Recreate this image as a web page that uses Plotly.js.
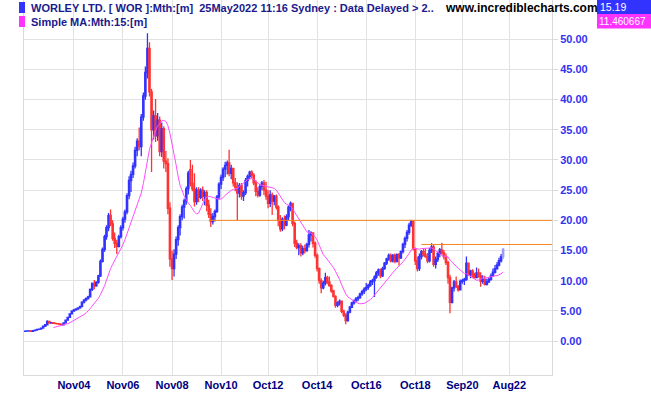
<!DOCTYPE html>
<html>
<head>
<meta charset="utf-8">
<script src="https://cdn.plot.ly/plotly-3.0.1.min.js"></script>
<style>
html,body{margin:0;padding:0;background:#fff;}
#chart{width:651px;height:395px;}
</style>
</head>
<body>
<div id="chart"></div>
<script>
// Monthly bars, Nov 2002 .. May 2022
var months = [
'2002-11','2002-12',
'2003-01','2003-02','2003-03','2003-04','2003-05','2003-06','2003-07','2003-08','2003-09','2003-10','2003-11','2003-12',
'2004-01','2004-02','2004-03','2004-04','2004-05','2004-06','2004-07','2004-08','2004-09','2004-10','2004-11','2004-12',
'2005-01','2005-02','2005-03','2005-04','2005-05','2005-06','2005-07','2005-08','2005-09','2005-10','2005-11','2005-12',
'2006-01','2006-02','2006-03','2006-04','2006-05','2006-06','2006-07','2006-08','2006-09','2006-10','2006-11','2006-12',
'2007-01','2007-02','2007-03','2007-04','2007-05','2007-06','2007-07','2007-08','2007-09','2007-10','2007-11','2007-12',
'2008-01','2008-02','2008-03','2008-04','2008-05','2008-06','2008-07','2008-08','2008-09','2008-10','2008-11','2008-12',
'2009-01','2009-02','2009-03','2009-04','2009-05','2009-06','2009-07','2009-08','2009-09','2009-10','2009-11','2009-12',
'2010-01','2010-02','2010-03','2010-04','2010-05','2010-06','2010-07','2010-08','2010-09','2010-10','2010-11','2010-12',
'2011-01','2011-02','2011-03','2011-04','2011-05','2011-06','2011-07','2011-08','2011-09','2011-10','2011-11','2011-12',
'2012-01','2012-02','2012-03','2012-04','2012-05','2012-06','2012-07','2012-08','2012-09','2012-10','2012-11','2012-12',
'2013-01','2013-02','2013-03','2013-04','2013-05','2013-06','2013-07','2013-08','2013-09','2013-10','2013-11','2013-12',
'2014-01','2014-02','2014-03','2014-04','2014-05','2014-06','2014-07','2014-08','2014-09','2014-10','2014-11','2014-12',
'2015-01','2015-02','2015-03','2015-04','2015-05','2015-06','2015-07','2015-08','2015-09','2015-10','2015-11','2015-12',
'2016-01','2016-02','2016-03','2016-04','2016-05','2016-06','2016-07','2016-08','2016-09','2016-10','2016-11','2016-12',
'2017-01','2017-02','2017-03','2017-04','2017-05','2017-06','2017-07','2017-08','2017-09','2017-10','2017-11','2017-12',
'2018-01','2018-02','2018-03','2018-04','2018-05','2018-06','2018-07','2018-08','2018-09','2018-10','2018-11','2018-12',
'2019-01','2019-02','2019-03','2019-04','2019-05','2019-06','2019-07','2019-08','2019-09','2019-10','2019-11','2019-12',
'2020-01','2020-02','2020-03','2020-04','2020-05','2020-06','2020-07','2020-08','2020-09','2020-10','2020-11','2020-12',
'2021-01','2021-02','2021-03','2021-04','2021-05','2021-06','2021-07','2021-08','2021-09','2021-10','2021-11','2021-12',
'2022-01','2022-02','2022-03','2022-04','2022-05'
];

var openP = [
1.60,1.65,
1.66,1.68,1.62,1.72,1.82,1.92,1.98,2.15,2.45,2.70,3.25,2.98,
3.05,2.92,2.88,2.84,2.78,2.68,3.00,3.45,3.92,4.50,4.95,5.15,
5.32,5.48,5.72,6.45,6.78,7.05,7.32,8.55,9.55,9.15,9.75,10.8,
13.2,15.2,17.3,18.8,20.8,19.4,17.0,16.2,15.7,17.3,18.8,20.2,
21.4,24.1,26.6,27.6,29.0,31.6,33.1,32.2,37.1,40.6,44.5,48.5,
41.3,35.0,37.3,34.0,36.6,31.4,35.2,29.8,29.4,22.0,13.6,12.0,
14.4,16.8,18.8,20.6,22.2,23.2,25.2,28.4,26.1,25.2,23.1,25.0,
23.8,25.0,24.0,24.6,22.5,21.0,19.8,20.6,21.5,23.9,26.0,27.1,
28.5,29.1,29.5,27.8,28.6,26.2,25.5,24.5,25.8,24.0,24.6,26.6,
27.3,28.0,27.5,26.2,24.8,24.2,25.6,26.2,25.0,24.0,22.8,24.2,
23.2,24.0,22.2,20.0,18.6,20.2,19.2,20.6,22.2,22.8,19.5,16.2,
15.5,15.8,14.6,15.3,15.0,16.0,17.6,17.9,16.2,14.2,12.0,10.0,
8.8,9.6,10.5,9.8,9.2,8.3,7.4,5.9,6.3,6.6,4.9,4.3,
3.4,4.8,5.6,6.3,6.7,7.0,7.2,7.8,8.2,8.6,8.9,9.2,
9.8,10.0,10.6,11.3,11.8,10.8,12.0,12.9,13.6,14.2,13.3,14.2,
13.2,14.3,13.8,14.8,16.0,17.0,18.0,19.2,19.8,15.3,13.3,12.0,
14.0,14.8,14.3,14.0,13.3,15.0,15.6,12.7,13.5,14.5,15.1,14.6,
14.0,13.0,10.5,6.4,8.8,9.8,9.0,8.5,9.9,10.0,10.2,12.9,
11.0,11.6,10.8,10.5,11.3,10.8,9.9,10.2,9.4,9.8,10.2,10.8,
11.4,12.0,12.6,13.3,14.0
];

var highP = [
1.70,1.72,
1.72,1.72,1.76,1.85,1.95,2.02,2.20,2.50,2.75,3.45,3.30,3.15,
3.10,3.05,2.98,2.95,2.90,3.05,3.50,4.00,4.60,5.10,5.30,5.45,
5.60,5.85,6.60,6.95,7.20,7.50,8.70,9.70,10.1,9.90,11.0,13.5,
15.5,17.6,19.2,21.2,21.8,20.0,18.0,16.8,17.6,19.2,20.6,21.8,
24.5,27.3,28.2,29.6,32.2,33.6,35.4,37.6,41.2,45.5,51.0,49.5,
41.8,38.2,40.1,37.8,37.2,36.2,35.6,31.5,30.3,23.0,15.0,15.2,
17.3,19.2,21.0,22.6,23.6,25.6,28.2,30.0,29.2,27.8,25.5,25.5,
25.3,25.6,25.0,25.0,23.4,22.0,21.2,21.8,24.2,26.3,27.6,28.8,
29.7,29.9,31.7,29.2,28.7,27.0,26.3,26.2,26.2,25.0,27.0,27.6,
28.2,28.3,27.8,26.7,25.5,26.0,26.5,26.7,26.4,25.0,25.0,24.6,
24.2,24.3,22.5,20.9,20.5,20.8,21.0,22.5,23.1,22.9,19.8,16.8,
16.2,16.2,15.8,16.0,16.3,18.4,18.2,18.0,16.5,14.5,12.2,10.4,
10.0,11.3,10.8,10.7,9.4,8.5,7.6,6.6,6.9,6.7,5.2,4.6,
5.0,5.8,6.5,6.9,7.3,7.5,8.0,8.5,8.9,9.6,9.5,10.1,
10.3,10.9,11.6,12.0,12.0,12.3,13.1,13.8,14.5,14.5,14.4,14.5,
14.5,14.6,15.0,16.3,17.3,18.4,19.6,20.1,20.0,15.5,14.0,14.5,
15.1,15.4,15.3,14.6,15.4,16.2,15.9,14.0,14.8,15.4,16.3,15.1,
14.5,13.3,11.0,9.0,10.1,10.7,9.3,10.2,10.3,10.5,14.0,13.0,
11.8,11.9,11.3,12.2,12.0,11.4,10.9,10.8,10.3,10.6,11.2,12.0,
12.6,13.1,13.8,14.4,15.4
];

var lowP = [
1.55,1.60,
1.60,1.58,1.60,1.70,1.78,1.85,1.95,2.10,2.40,2.65,2.90,2.85,
2.85,2.80,2.75,2.70,2.55,2.62,2.95,3.35,3.85,4.40,4.85,5.00,
5.15,5.35,5.60,6.20,6.60,6.90,7.20,8.30,8.60,9.00,9.50,10.6,
13.0,14.8,16.8,18.2,19.0,16.6,15.4,14.4,15.5,17.0,18.3,19.6,
21.0,23.5,24.7,27.0,28.6,30.6,31.6,30.6,36.5,40.0,43.5,40.5,
28.0,33.4,33.0,33.2,30.6,30.5,28.6,28.0,21.0,12.3,10.1,10.7,
13.6,15.8,17.5,20.0,20.3,22.6,24.3,25.6,24.8,22.3,22.6,23.0,
23.5,23.2,22.5,21.5,20.4,18.9,19.3,19.8,21.2,23.5,25.2,26.5,
27.2,27.6,27.3,26.8,25.6,24.8,20.0,23.8,23.4,23.2,24.2,25.6,
26.8,27.0,25.8,24.0,23.8,23.9,25.0,24.2,23.4,22.0,22.2,20.9,
22.5,21.8,19.0,18.1,18.2,18.5,19.0,20.0,21.5,19.0,15.6,15.2,
14.2,14.0,14.2,14.5,14.8,15.5,16.5,15.5,13.8,11.5,9.5,7.9,
8.6,9.2,9.4,9.0,8.0,7.2,5.5,5.6,5.9,4.6,4.0,2.8,
3.2,4.6,5.5,6.0,6.4,6.6,7.0,7.5,7.8,8.3,8.5,9.0,
9.3,7.3,10.3,10.8,10.4,10.6,11.8,12.6,13.3,13.0,13.0,12.9,
13.0,12.5,13.6,14.5,15.4,16.5,17.6,18.9,15.0,12.6,11.5,11.6,
13.5,14.0,13.8,12.9,13.0,14.6,12.3,12.0,13.1,13.9,14.3,13.5,
12.6,9.5,4.6,6.2,8.2,8.8,8.2,8.4,9.5,9.3,10.0,10.8,
10.4,10.4,10.3,10.4,10.5,9.0,9.5,9.2,9.2,9.6,10.0,10.6,
11.2,11.8,12.4,13.0,13.6
];

var closeP = [
1.65,1.66,
1.68,1.62,1.72,1.82,1.92,1.98,2.15,2.45,2.70,3.25,2.98,3.05,
2.92,2.88,2.84,2.78,2.68,3.00,3.45,3.92,4.50,4.95,5.15,5.32,
5.48,5.72,6.45,6.78,7.05,7.32,8.55,9.55,9.15,9.75,10.8,13.2,
15.2,17.3,18.8,20.8,19.4,17.0,16.2,15.7,17.3,18.8,20.2,21.4,
24.1,26.6,27.6,29.0,31.6,33.1,32.2,37.1,40.6,44.5,48.5,41.3,
35.0,37.3,34.0,36.6,31.4,35.2,29.8,29.4,22.0,13.6,12.0,14.4,
16.8,18.8,20.6,22.2,23.2,25.2,27.8,26.1,25.2,23.1,25.0,23.8,
25.0,24.0,24.6,22.5,21.0,19.8,20.6,21.5,23.9,26.0,27.1,28.5,
29.1,29.5,27.8,28.6,26.2,25.5,24.5,25.8,24.0,24.6,26.6,27.3,
28.0,27.5,26.2,24.8,24.2,25.6,26.2,25.0,24.0,22.8,24.2,23.2,
24.0,22.2,20.0,18.6,20.2,19.2,20.6,22.2,22.8,19.5,16.2,15.5,
15.8,14.6,15.3,15.0,16.0,17.6,17.9,16.2,14.2,12.0,10.0,8.8,
9.6,10.5,9.8,9.2,8.3,7.4,5.9,6.3,6.6,4.9,4.3,3.4,
4.8,5.6,6.3,6.7,7.0,7.2,7.8,8.2,8.6,8.9,9.2,9.8,
10.0,10.6,11.3,11.8,10.8,12.0,12.9,13.6,14.2,13.3,14.2,13.2,
14.3,13.8,14.8,16.0,17.0,18.0,19.2,19.8,15.3,13.3,12.0,14.0,
14.8,14.3,14.0,13.3,15.0,15.6,12.7,13.5,14.5,15.1,14.6,14.0,
13.0,10.5,6.4,8.8,9.8,9.0,8.5,9.9,10.0,10.2,12.9,11.0,
11.6,10.8,10.5,11.3,10.8,9.9,10.2,9.4,9.8,10.2,10.8,11.4,
12.0,12.6,13.3,14.0,15.19
];

var maPeriod = 15;
var yTicks = [0,5,10,15,20,25,30,35,40,45,50];
var xTickVals = ['2004-11-01','2006-11-01','2008-11-01','2010-11-01','2012-10-01','2014-10-01','2016-10-01','2018-10-01','2020-09-01','2022-08-01'];
var xTickText = ['Nov04','Nov06','Nov08','Nov10','Oct12','Oct14','Oct16','Oct18','Sep20','Aug22'];
var levelLines = [
  {from:'2010-05-01', value:20},
  {from:'2019-01-01', value:16}
];
var headerText = 'WORLEY LTD. [ WOR ]:Mth:[m]  25May2022 11:16 Sydney : Data Delayed > 2..';
var maText = 'Simple MA:Mth:15:[m]';
var lastPriceText = '15.19';
var lastMaText = '11.460667';

// 15-month simple moving average of the closes (as in the chart legend)
var maX = [], maY = [];
for (var i = maPeriod - 1; i < closeP.length; i++) {
  var s = 0;
  for (var k = i - maPeriod + 1; k <= i; k++) s += closeP[k];
  maX.push(months[i]); maY.push(s / maPeriod);
}

var n = months.length;
var BLUE = '#3333ff', RED = '#ff3333';
var xStart = '2002-10-20', xEnd = '2024-04-28';

var traces = [
  {
    type:'candlestick',
    x: months.slice(0,n-1), open: openP.slice(0,n-1), high: highP.slice(0,n-1), low: lowP.slice(0,n-1), close: closeP.slice(0,n-1),
    increasing:{line:{color:BLUE,width:1.3}, fillcolor:BLUE},
    decreasing:{line:{color:RED,width:1.3}, fillcolor:RED},
    whiskerwidth:0, hoverinfo:'skip', showlegend:false
  },
  {
    type:'candlestick',
    x: months.slice(n-1), open: openP.slice(n-1), high: highP.slice(n-1), low: lowP.slice(n-1), close: closeP.slice(n-1),
    increasing:{line:{color:'#9a9aff',width:1.3}, fillcolor:'#9a9aff'},
    decreasing:{line:{color:'#ff9a9a',width:1.3}, fillcolor:'#ff9a9a'},
    whiskerwidth:0, hoverinfo:'skip', showlegend:false
  },
  {
    type:'scatter', mode:'lines', x:maX, y:maY,
    line:{color:'#ff4dff', width:1}, hoverinfo:'skip', showlegend:false
  }
];

// layout helpers: pixel -> paper coordinates (plot area 24..552 x 0..375)
function xp(px){ return (px - 24) / 528; }
function yp(py){ return (375 - py) / 375; }

var shapes = levelLines.map(function(l){
  return {type:'line', xref:'x', yref:'y', x0:l.from, x1:xEnd, y0:l.value, y1:l.value,
          line:{color:'#f5841f', width:1}, layer:'above'};
});
shapes.push({type:'rect', xref:'paper', yref:'paper', x0:xp(19), x1:xp(25), y0:yp(13), y1:yp(2), fillcolor:BLUE, line:{width:0}});
shapes.push({type:'rect', xref:'paper', yref:'paper', x0:xp(19), x1:xp(25), y0:yp(27), y1:yp(16), fillcolor:'#ff33ff', line:{width:0}});
shapes.push({type:'rect', xref:'paper', yref:'paper', x0:xp(597), x1:xp(651), y0:yp(14), y1:yp(0), fillcolor:BLUE, line:{width:0}});
shapes.push({type:'rect', xref:'paper', yref:'paper', x0:xp(597), x1:xp(651), y0:yp(28.5), y1:yp(14), fillcolor:'#ff33ff', line:{width:0}});

var FONT = 'Liberation Sans, Arial, sans-serif';
var annotations = [
  {xref:'paper', yref:'paper', x:xp(29), y:yp(8), xanchor:'left', yanchor:'middle', showarrow:false,
   text:headerText, font:{family:FONT, size:11, color:'#1a1a8c', weight:'bold'}},
  {xref:'paper', yref:'paper', x:xp(29), y:yp(21.5), xanchor:'left', yanchor:'middle', showarrow:false,
   text:maText, font:{family:FONT, size:11, color:'#1a1a8c', weight:'bold'}},
  {xref:'paper', yref:'paper', x:xp(443), y:yp(8), xanchor:'left', yanchor:'middle', showarrow:false,
   text:'www.incrediblecharts.com', font:{family:FONT, size:12, color:'#000000', weight:'bold'}},
  {xref:'paper', yref:'paper', x:xp(598), y:yp(7), xanchor:'left', yanchor:'middle', showarrow:false,
   text:lastPriceText, font:{family:FONT, size:10.5, color:'#ffffff'}},
  {xref:'paper', yref:'paper', x:xp(597), y:yp(21.5), xanchor:'left', yanchor:'middle', showarrow:false,
   text:lastMaText, font:{family:FONT, size:10, color:'#ffffff'}}
];

var layout = {
  width:651, height:395,
  margin:{l:24, r:99, t:0, b:20, pad:0},
  paper_bgcolor:'#ffffff', plot_bgcolor:'#ffffff',
  showlegend:false,
  boxgap:0,
  xaxis:{
    type:'date', range:[xStart, xEnd], fixedrange:true,
    rangeslider:{visible:false},
    tickmode:'array', tickvals:xTickVals, ticktext:xTickText,
    ticks:'', showgrid:true, gridcolor:'#e2e2e2', gridwidth:1,
    showline:true, linecolor:'#dadada', linewidth:1, mirror:false,
    tickfont:{family:FONT, size:11, color:'#000080', weight:'bold'},
    zeroline:false
  },
  yaxis:{
    side:'right', range:[-5.63, 56.51], fixedrange:true,
    tickmode:'array', tickvals:yTicks, tickformat:'.2f',
    ticks:'outside', ticklen:5, tickcolor:'#dadada',
    showgrid:true, gridcolor:'#e2e2e2', gridwidth:1,
    showline:true, linecolor:'#dadada', linewidth:1, mirror:true,
    tickfont:{family:FONT, size:11, color:'#3333ee', weight:'bold'},
    zeroline:false
  },
  shapes:shapes,
  annotations:annotations
};

Plotly.newPlot('chart', traces, layout, {displayModeBar:false, staticPlot:true});
</script>
</body>
</html>
